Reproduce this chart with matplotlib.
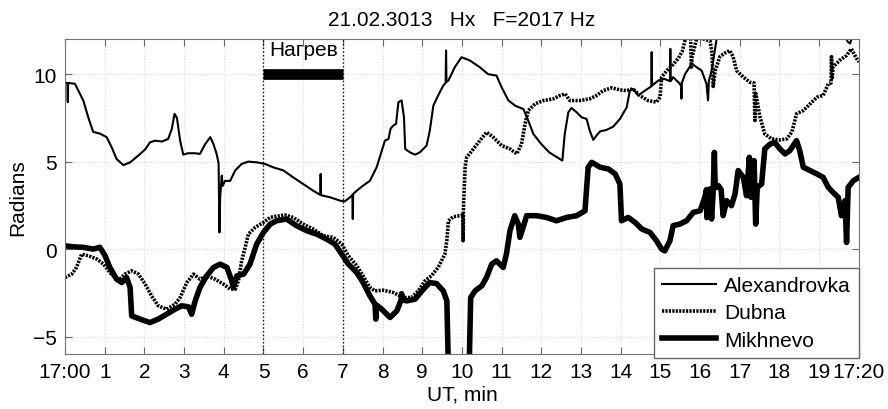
import matplotlib
matplotlib.use('Agg')
import matplotlib.pyplot as plt

plt.rcParams['font.family'] = ['Liberation Sans', 'DejaVu Sans']

# time in minutes after 17:00 UT, phase in radians
alex_t = [0.0, 0.06, 0.07, 0.08, 0.25, 0.46, 0.59, 0.71, 0.88, 1.05, 1.18, 1.3, 1.47, 1.64, 1.85,
          2.02, 2.14, 2.27, 2.44, 2.6, 2.69, 2.76, 2.82, 2.9, 2.98, 3.1, 3.28, 3.4, 3.53, 3.66,
          3.74, 3.82, 3.87, 3.89, 3.91, 3.95, 3.97, 4.03, 4.16, 4.29, 4.45, 4.62, 4.83, 5.04,
          5.25, 5.5, 5.75, 6.0, 6.25, 6.43, 6.44, 6.45, 6.68, 6.93, 7.05, 7.18, 7.24, 7.25, 7.26,
          7.35, 7.51, 7.68, 7.85, 7.98, 8.06, 8.15, 8.2, 8.27, 8.34, 8.4, 8.48, 8.54, 8.57, 8.69,
          8.82, 8.94, 9.11, 9.19, 9.28, 9.4, 9.53, 9.59, 9.6, 9.61, 9.66, 9.82, 9.99, 10.2, 10.45,
          10.66, 10.87, 11.0, 11.17, 11.34, 11.55, 11.67, 11.8, 12.0, 12.2, 12.43, 12.53, 12.59,
          12.68, 12.76, 12.89, 13.01, 13.14, 13.22, 13.31, 13.39, 13.48, 13.64, 13.81, 13.98,
          14.15, 14.23, 14.31, 14.44, 14.61, 14.77, 14.78, 14.79, 14.95, 15.1, 15.24, 15.25,
          15.26, 15.32, 15.49, 15.52, 15.53, 15.54, 15.62, 15.79, 15.91, 16.04, 16.16, 16.2,
          16.22, 16.29, 16.37, 16.45, 17.0, 18.0, 19.0, 19.6, 19.72, 19.78, 19.84, 20.0]
alex_y = [9.5, 9.5, 8.4, 9.5, 9.45, 8.5, 7.5, 6.7, 6.6, 6.4, 5.8, 5.15, 4.8, 4.96, 5.35,
          5.7, 6.1, 6.2, 6.15, 6.3, 6.87, 7.73, 7.5, 6.2, 5.4, 5.48, 5.48, 5.44, 6.0, 6.4,
          6.0, 5.44, 4.9, 0.95, 3.0, 4.2, 3.6, 3.9, 3.9, 4.5, 4.87, 5.0, 4.96, 4.87,
          4.67, 4.5, 4.1, 3.72, 3.34, 3.1, 4.3, 3.08, 2.96, 2.77, 2.73, 2.96, 3.1, 1.72, 3.15,
          3.34, 3.63, 3.9, 4.67, 5.63, 6.2, 6.3, 6.87, 7.06, 7.16, 8.4, 8.5, 7.54, 5.73, 5.53,
          5.4, 5.53, 5.92, 6.77, 8.2, 8.78, 9.35, 9.5, 11.35, 9.55, 9.64, 10.4, 10.97, 10.78, 10.4,
          10.0, 9.92, 9.25, 8.5, 8.2, 8.0, 7.35, 6.58, 6.0, 5.53, 5.2, 5.06, 6.58,
          7.82, 8.07, 7.82, 7.54, 7.44, 6.77, 6.24, 6.49, 6.73, 6.81, 7.0, 7.44,
          8.1, 9.06, 9.16, 8.78, 9.06, 9.3, 11.26, 9.35, 9.64, 9.73, 9.6, 11.45,
          9.6, 9.83, 9.45, 9.3, 8.6, 9.5, 10.0, 10.6, 10.4, 10.2, 9.45, 8.5,
          9.6, 10.2, 11.35, 12.5, 13.0, 13.5, 13.0, 12.4, 11.85, 11.75, 12.2, 12.8]

dubna_t = [0.0, 0.17, 0.29, 0.42, 0.59, 0.8, 0.97, 1.13, 1.34, 1.51, 1.68, 1.85, 2.02, 2.18, 2.35,
           2.56, 2.77, 2.9, 3.07, 3.24, 3.4, 3.57, 3.78, 3.99, 4.16, 4.29, 4.37, 4.45, 4.54, 4.62,
           4.79, 5.0, 5.17, 5.25, 5.54, 5.75, 6.0, 6.25, 6.51, 6.76, 6.97, 7.14, 7.35, 7.51, 7.68,
           7.81, 8.02, 8.27, 8.52, 8.73, 8.9, 9.07, 9.23, 9.4, 9.57, 9.62, 9.66, 9.78, 9.95, 10.02,
           10.03, 10.04, 10.08, 10.12, 10.29, 10.45, 10.62, 10.79, 11.0, 11.21, 11.38, 11.5, 11.59,
           11.67, 11.84, 12.05, 12.3, 12.47, 12.6, 12.72, 12.97, 13.22, 13.39, 13.56, 13.77, 13.98,
           14.15, 14.31, 14.48, 14.69, 14.9, 14.99, 15.03, 15.16, 15.3, 15.45, 15.55, 15.65, 15.76,
           15.78, 15.8, 15.92, 16.1, 16.25, 16.3, 16.33, 16.38, 16.5, 16.62, 16.75, 16.83, 16.92,
           17.09, 17.25, 17.36, 17.38, 17.4, 17.42, 17.51, 17.63, 17.8, 18.01, 18.18, 18.31, 18.43,
           18.6, 18.77, 18.94, 19.1, 19.23, 19.3, 19.31, 19.33, 19.35, 19.52, 19.69, 19.81, 19.94, 20.0]
dubna_y = [-1.62, -1.43, -1.05, -0.29, -0.38, -0.57, -0.86, -1.34, -1.81, -1.43, -1.24, -1.43, -2.0, -2.67, -3.24,
           -3.44, -3.15, -2.77, -1.91, -1.43, -1.72, -1.53, -1.72, -2.0, -2.29, -2.29, -1.81, -0.67, 0.1, 0.86,
           1.24, 1.53, 1.81, 1.85, 1.95, 1.81, 1.43, 1.15, 0.76, 0.67, 0.29, -0.38, -0.95, -1.53, -2.19,
           -2.39, -2.35, -2.48, -2.77, -2.77, -2.39, -1.81, -1.53, -1.05, -0.29, 0.5, 1.62, 1.85, 1.91, 1.95,
           0.48, 2.5, 4.68, 5.25, 5.73, 6.2, 6.68, 6.39, 5.92, 5.73, 5.44, 6.0, 7.16,
           7.92, 8.3, 8.49, 8.59, 8.78, 8.87, 8.49, 8.49, 8.59, 8.78, 9.06, 9.22, 9.1,
           9.06, 9.16, 8.78, 8.49, 8.4, 8.68, 9.83, 10.2, 10.5, 10.9, 11.3, 12.2, 12.2,
           10.4, 11.0, 12.1, 12.0, 11.9, 11.2, 9.3, 10.2, 11.0, 11.2, 11.35, 11.0, 10.2,
           9.83, 9.54, 9.5, 7.35, 8.9, 8.68, 7.54, 6.58, 6.3, 6.24, 6.3, 6.68, 7.73,
           7.92, 8.3, 8.68, 8.78, 9.45, 9.5, 11.0, 9.8, 10.4, 10.8, 11.07, 11.45, 10.9, 10.7]

mikh_t = [0.0, 0.21, 0.46, 0.71, 0.88, 1.01, 1.13, 1.3, 1.43, 1.55, 1.64, 1.68, 1.89, 2.14, 2.35,
          2.56, 2.77, 2.94, 3.11, 3.19, 3.28, 3.4, 3.57, 3.74, 3.91, 4.08, 4.2, 4.24, 4.33, 4.5,
          4.66, 4.83, 5.0, 5.17, 5.33, 5.58, 5.83, 6.09, 6.34, 6.59, 6.8, 6.97, 7.14, 7.35, 7.51,
          7.68, 7.81, 7.83, 7.85, 7.98, 8.19, 8.36, 8.47, 8.48, 8.5, 8.61, 8.82, 9.03, 9.19, 9.36,
          9.53, 9.62, 9.66, 10.18, 10.22, 10.33, 10.5, 10.62, 10.75, 10.87, 11.04, 11.12, 11.21,
          11.33, 11.42, 11.46, 11.54, 11.63, 11.88, 12.13, 12.38, 12.64, 12.89, 13.1, 13.18, 13.27,
          13.48, 13.69, 13.86, 13.98, 14.02, 14.19, 14.36, 14.53, 14.74, 14.9, 15.03, 15.11, 15.24,
          15.32, 15.49, 15.66, 15.83, 16.0, 16.12, 16.16, 16.17, 16.25, 16.29, 16.33, 16.36, 16.38,
          16.46, 16.53, 16.58, 16.67, 16.79, 16.88, 16.96, 17.09, 17.17, 17.24, 17.28, 17.36, 17.4,
          17.44, 17.55, 17.63, 17.76, 17.88, 18.01, 18.14, 18.26, 18.43, 18.51, 18.6, 18.77, 18.94,
          19.1, 19.23, 19.35, 19.48, 19.56, 19.65, 19.69, 19.73, 19.86, 20.0]
mikh_y = [0.19, 0.13, 0.1, 0.0, 0.1, -0.38, -1.05, -1.72, -1.91, -1.62, -2.19, -3.82, -4.0, -4.2, -4.0,
          -3.72, -3.44, -3.24, -3.3, -3.72, -2.96, -2.19, -1.53, -1.05, -0.86, -1.05, -1.81, -2.19, -1.53, -1.43,
          -0.86, 0.29, 0.95, 1.43, 1.62, 1.72, 1.34, 1.05, 0.86, 0.57, 0.29, -0.29, -0.86, -1.34, -1.91,
          -2.67, -3.15, -4.0, -3.2, -3.44, -3.91, -3.53, -2.9, -2.55, -2.9, -2.96, -2.86, -2.29, -1.91, -1.97,
          -2.39, -2.96, -7.0, -7.0, -2.77, -2.39, -2.1, -1.62, -0.86, -0.67, -1.05, -0.29, 1.05,
          1.91, 1.43, 0.67, 1.24, 1.91, 1.91, 1.81, 1.62, 1.81, 1.91, 2.19, 4.68, 4.96,
          4.68, 4.58, 4.3, 3.72, 1.62, 1.81, 1.53, 1.15, 0.95, 0.48, 0.0, -0.1, 0.48,
          1.34, 1.43, 1.62, 2.1, 2.19, 2.96, 3.4, 1.8, 3.44, 1.72, 3.3, 5.53, 3.5,
          3.63, 3.4, 1.91, 2.77, 2.48, 3.15, 4.49, 4.1, 3.05, 5.25, 2.96, 5.06, 1.43,
          3.53, 3.72, 5.73, 6.0, 6.1, 5.73, 5.44, 5.63, 6.2, 5.63, 4.68, 4.49, 4.3,
          4.1, 3.53, 3.24, 2.96, 1.91, 2.77, 0.38, 3.53, 3.91, 4.1]

heat_start, heat_end = 5, 7
heat_level = 10
xtick_pos = list(range(0, 21))
xtick_lab = ['17:00'] + [str(i) for i in range(1, 20)] + ['17:20']
ytick_pos = [-5, 0, 5, 10]

fig = plt.figure(figsize=(8.88, 4.10), dpi=100)
ax = fig.add_axes([0.0732, 0.134, 0.894, 0.768])

ax.plot(alex_t, alex_y, color='k', lw=1.5, label='Alexandrovka')
ax.plot(dubna_t, dubna_y, color='k', lw=2.6, ls=(0, (0.6, 0.35)), label='Dubna')
ax.plot(mikh_t, mikh_y, color='k', lw=4.0, label='Mikhnevo')

# heating interval
ax.axvline(heat_start, color='k', ls=':', lw=1.0)
ax.axvline(heat_end, color='k', ls=':', lw=1.0)
ax.plot([heat_start, heat_end], [heat_level, heat_level], color='k', lw=7.7, solid_capstyle='butt')
ax.text((heat_start + heat_end) / 2, 11.4, 'Нагрев', ha='center', va='center', fontsize=15)

ax.set_xlim(0, 20)
ax.set_ylim(-6, 12)
ax.set_xticks(xtick_pos)
ax.set_xticklabels(xtick_lab)
ax.set_yticks(ytick_pos)
ax.tick_params(direction='in', top=True, right=True, length=5, color='0.4', labelsize=15, pad=6)
ax.grid(True, ls=':', color='0.85', lw=0.8)
for s in ax.spines.values():
    s.set_color('0.45')

ax.set_title('21.02.3013   Hx   F=2017 Hz', fontsize=15, pad=10)
ax.set_xlabel('UT, min', fontsize=15, labelpad=2)
ax.set_ylabel('Radians', fontsize=15, labelpad=4)

leg = ax.legend(loc='lower right', bbox_to_anchor=(1.0, -0.012), borderaxespad=0, fontsize=15,
                fancybox=False, framealpha=1, edgecolor='0.4', handlelength=2.6,
                handletextpad=0.35, labelspacing=0.4, borderpad=0.4)
leg.get_frame().set_linewidth(1.0)

fig.savefig('out.png', dpi=100)
